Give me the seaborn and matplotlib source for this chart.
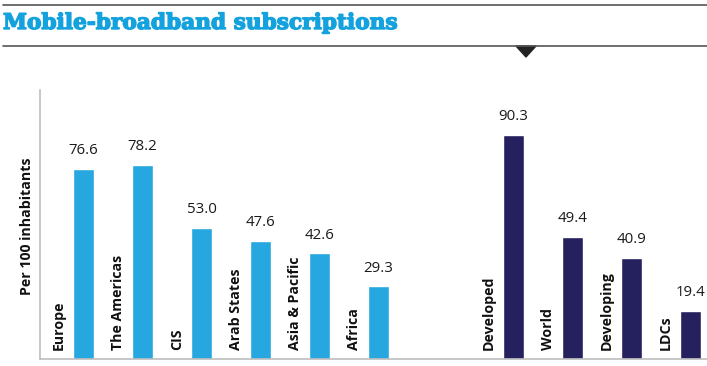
import matplotlib
matplotlib.use("Agg")
import matplotlib.pyplot as plt
import matplotlib.patheffects as pe
import seaborn as sns
import numpy as np
import pandas as pd

regions = ["Europe", "The Americas", "CIS", "Arab States", "Asia & Pacific", "Africa"]
region_values = [76.6, 78.2, 53.0, 47.6, 42.6, 29.3]
levels = ["Developed", "World", "Developing", "LDCs"]
level_values = [90.3, 49.4, 40.9, 19.4]

title = "Mobile-broadband subscriptions"
ylabel = "Per 100 inhabitants"

CYAN = "#27a7df"
NAVY = "#25215e"
TITLE_C = "#13a2dd"

sns.set_theme(style="white")
plt.rcParams['font.family'] = ['Open Sans', 'DejaVu Sans']

gap = 1.29
pos = list(np.arange(len(regions), dtype=float)) + list(np.arange(len(levels)) + len(regions) + gap)
df = pd.DataFrame({
    "pos": pos,
    "value": region_values + level_values,
    "label": regions + levels,
    "group": ["region"] * len(regions) + ["level"] * len(levels),
})

W, H = 707, 366
fig = plt.figure(figsize=(W / 100, H / 100), dpi=100)
ax = fig.add_axes([40 / W, (H - 359) / H, (W - 40) / W, (359 - 90) / H])

sns.barplot(data=df, x="pos", y="value", hue="group", native_scale=True,
            palette={"region": CYAN, "level": NAVY}, width=0.36, dodge=False,
            legend=False, saturation=1, ax=ax)

ax.set_xlim(-0.737, 10.57)
ax.set_ylim(0, 108.5)
ax.set_xticks([])
ax.set_yticks([])
ax.set_xlabel("")
ax.set_ylabel("")
for s in ["top", "right"]:
    ax.spines[s].set_visible(False)
for s in ["left", "bottom"]:
    ax.spines[s].set_color("#bdbdbd")
    ax.spines[s].set_linewidth(1.2)

for p, v, lab in zip(df["pos"], df["value"], df["label"]):
    ax.text(p, v + 4.3, f"{v:.1f}", ha="center", va="bottom", fontsize=10.8, color="#1a1a1a")
    ax.text(p - 0.42, 3.8, lab, rotation=90, ha="center", va="bottom",
            fontsize=10.2, fontweight="bold", color="#111111")

fig.text(27 / W, 1 - 226 / H, ylabel, rotation=90, ha="center", va="center",
         fontsize=10.2, fontweight="bold", color="#111111")

fig.text(3 / W, 1 - 23 / H, title, ha="left", va="center", fontsize=15.6,
         fontweight="bold", color=TITLE_C, family=["DejaVu Serif"],
         path_effects=[pe.withStroke(linewidth=1.0, foreground=TITLE_C)])

fig.add_artist(plt.Line2D([3 / W, 1], [1 - 5 / H] * 2, color="#555555", lw=1.2))
fig.add_artist(plt.Line2D([3 / W, 1], [1 - 45.5 / H] * 2, color="#555555", lw=1.2))
tri = plt.Polygon([[516 / W, 1 - 46 / H], [536 / W, 1 - 46 / H], [526 / W, 1 - 57 / H]],
                  closed=True, color="#222222", transform=fig.transFigure)
fig.add_artist(tri)

fig.savefig("out.png", dpi=100)
